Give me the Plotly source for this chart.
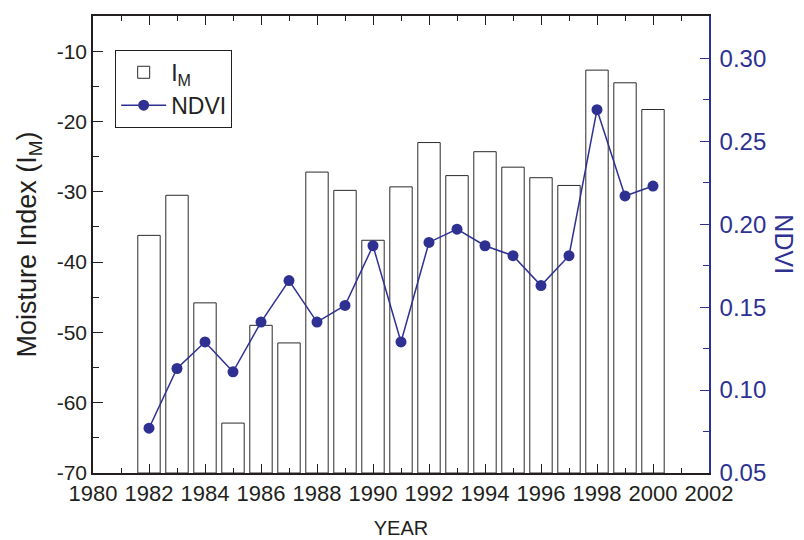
import plotly.graph_objects as go

years = [1982, 1983, 1984, 1985, 1986, 1987, 1988, 1989, 1990, 1991,
         1992, 1993, 1994, 1995, 1996, 1997, 1998, 1999, 2000]
moisture_index = [-36.2, -30.5, -45.8, -62.9, -49.0, -51.5, -27.2, -29.8, -36.9, -29.3,
                  -23.0, -27.7, -24.3, -26.5, -28.0, -29.1, -12.7, -14.5, -18.3]
ndvi = [0.077, 0.113, 0.129, 0.111, 0.141, 0.166, 0.141, 0.151, 0.187, 0.129,
        0.189, 0.197, 0.187, 0.181, 0.163, 0.181, 0.269, 0.217, 0.223]

im_tick_values = [-70, -60, -50, -40, -30, -20, -10]
im_tick_labels = ["-70", "-60", "-50", "-40", "-30", "-20", "-10"]

bar_base = -70
BLUE = "#2e3192"
INK = "#231f20"
FONT = "Liberation Sans, Arial, sans-serif"

fig = go.Figure()
fig.add_trace(go.Bar(
    x=years,
    y=[v - bar_base for v in moisture_index],
    base=bar_base,
    width=0.8,
    name="I<sub>M</sub>",
    marker=dict(color="white", line=dict(color="#2a2a2a", width=1)),
    customdata=moisture_index,
    hovertemplate="%{x}: %{customdata}<extra></extra>",
))
fig.add_trace(go.Scatter(
    x=years, y=ndvi, yaxis="y2", name="NDVI",
    mode="lines+markers",
    line=dict(color=BLUE, width=1.5),
    marker=dict(color=BLUE, size=11),
))

fig.update_layout(
    width=796, height=532,
    margin=dict(l=85, r=95, t=8, b=67, autoexpand=False),
    plot_bgcolor="white", paper_bgcolor="white",
    font=dict(family=FONT, color=INK),
    showlegend=True,
    legend=dict(
        x=0.036, y=0.926, xanchor="left", yanchor="top",
        bordercolor=INK, borderwidth=1, bgcolor="white",
        font=dict(size=23, color=INK), itemwidth=45,
        tracegroupgap=0,
    ),
    xaxis=dict(
        range=[1980, 2002], dtick=2, tick0=1980,
        showline=True, linecolor=INK, linewidth=1.5, mirror="ticks",
        ticks="inside", ticklen=9, tickcolor=INK, tickwidth=1.2,
        minor=dict(ticks="inside", dtick=1, ticklen=5, tickcolor=INK),
        showgrid=False, zeroline=False,
        tickfont=dict(size=22, color=INK),
        title=dict(text="YEAR", font=dict(size=20, color=INK), standoff=16),
        automargin=False,
    ),
    yaxis=dict(
        range=[-70, -5], tickvals=im_tick_values, ticktext=im_tick_labels,
        showline=True, linecolor=INK, linewidth=1.5,
        ticks="inside", ticklen=10, tickcolor=INK, tickwidth=1.2,
        minor=dict(ticks="inside", dtick=5, tick0=-70, ticklen=6, tickcolor=INK),
        showgrid=False, zeroline=False,
        tickfont=dict(size=21, color=INK),
        title=dict(text="Moisture Index (I<sub>M</sub>)", font=dict(size=27, color=INK), standoff=12),
        automargin=False,
    ),
    yaxis2=dict(
        overlaying="y", side="right",
        range=[0.05, 0.3255], dtick=0.05, tick0=0.05, tickformat=".2f",
        showline=True, linecolor=BLUE, linewidth=1.5,
        ticks="inside", ticklen=9, tickcolor=BLUE, tickwidth=1.2,
        minor=dict(ticks="inside", dtick=0.025, ticklen=6, tickcolor=BLUE),
        showgrid=False, zeroline=False,
        tickfont=dict(size=24, color=BLUE), ticklabelstandoff=4,
        automargin=False,
    ),
    annotations=[dict(
        text="NDVI", xref="paper", yref="paper", x=1.122, y=0.5,
        xanchor="center", yanchor="middle",
        showarrow=False, textangle=90,
        font=dict(size=25, color=BLUE, family=FONT),
    )],
)

fig.write_html("out.html")
